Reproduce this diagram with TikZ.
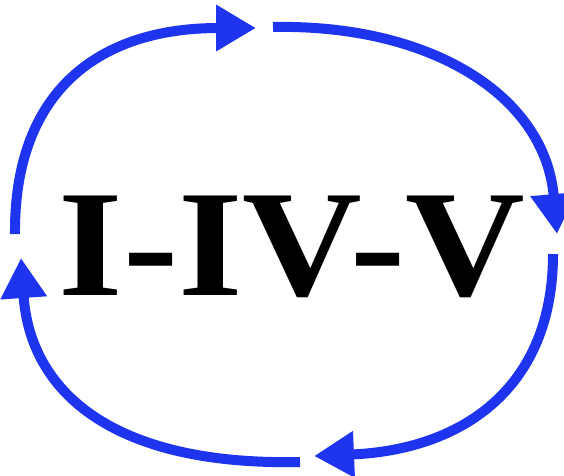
\documentclass[tikz,border=0pt]{standalone}
\usepackage{fontspec}
\setmainfont{Liberation Serif}
\usetikzlibrary{arrows.meta}
\definecolor{Loop}{HTML}{1E34EE}
\definecolor{Shade}{HTML}{8A8A8A}
\tikzset{
    looparrow/.style={line width=10pt, draw=Loop, -{Triangle[length=40pt 0 0, width=44pt 0 0]},
        preaction={draw=Shade, opacity=0.35, transform canvas={shift={(2pt,-3pt)}}}},
    chordtext/.style={inner sep=0pt, font=\fontsize{152}{152}\bfseries\selectfont, text=black},
}
\begin{document}
\begin{tikzpicture}[x=1pt, y=-1pt]
                \useasboundingbox (0,0) rectangle (564,475);
                
                % Ends of the four arcs
                \coordinate (leftTop) at (15,234);
                \coordinate (topTip) at (256,28);
                \coordinate (topStart) at (273,27);
                \coordinate (rightTip) at (557,234);
                \coordinate (rightStart) at (553,254);
                \coordinate (bottomTip) at (314,456);
                \coordinate (bottomStart) at (300,462);
                \coordinate (leftTip) at (21,258);
                
                % Progression
                \node[chordtext] (prog) at (292,247) {\scalebox{1.09}[1]{I-IV-V}};
                
                % Cycle
                \draw[looparrow] (leftTop) .. controls (14,90) and (100,28) .. (topTip);
                \draw[looparrow] (topStart) .. controls (430,24) and (545,95) .. (rightTip);
                \draw[looparrow] (rightStart) .. controls (553,390) and (460,450) .. (bottomTip);
                \draw[looparrow] (bottomStart) .. controls (110,466) and (30,390) .. (leftTip);
            \end{tikzpicture}
\end{document}
